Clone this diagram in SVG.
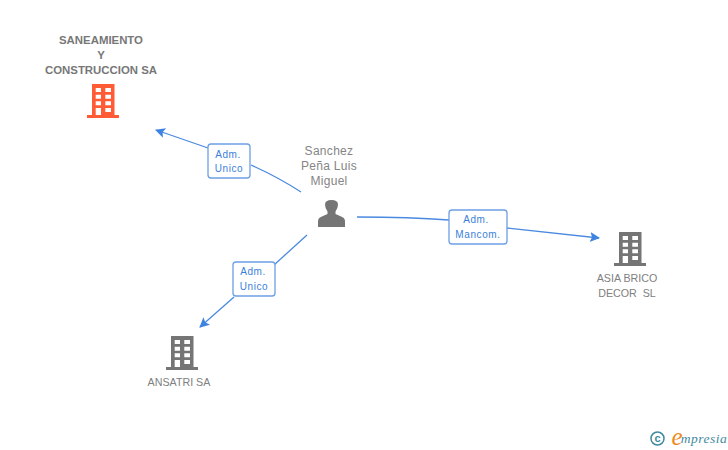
<svg xmlns="http://www.w3.org/2000/svg" width="728" height="450" viewBox="0 0 728 450">
<style>
text{font-family:"Liberation Sans",Arial,sans-serif;text-anchor:middle}
.n{font-size:10.7px;fill:#808080}
.b{font-weight:bold;font-size:11.4px;fill:#777}
.p{font-size:12px;fill:#858585;letter-spacing:.3px}
.l{font-size:10px;fill:#3a7fdc;letter-spacing:.6px}
.c{fill:none;stroke:#4a8ae0;stroke-width:1.300}
.box{fill:#fff;stroke:#6d9fe6;stroke-width:1.300}
</style>
<defs>
<marker id="a" markerWidth="12" markerHeight="12" refX="9" refY="5" orient="auto" markerUnits="userSpaceOnUse"><path d="M0 0L10 5L0 10L2 5Z" fill="#3f83e0"/></marker>
<symbol id="bld" viewBox="0 0 32 34" width="32" height="34" overflow="visible">
<path fill-rule="evenodd" d="M5 0H27.500V31H32V34H0V31H5ZM8.700 4V8H14V4ZM18.300 4V8H24V4ZM8.700 10.700V14.700H14V10.700ZM18.300 10.700V14.700H24V10.700ZM8.700 17.300V21.300H14V17.300ZM18.300 17.300V21.300H24V17.300ZM8.700 24V31H14V24ZM18.300 24V28H24V24Z"/>
</symbol>
</defs>
<rect width="728" height="450" fill="#fff"/>
<g id="connectors">
<path class="c" marker-end="url(#a)" d="M208 148L156 130"/>
<path class="c" d="M301 192Q278 177 251 165"/>
<path class="c" d="M357 217Q410 217 449 220"/>
<path class="c" marker-end="url(#a)" d="M507 228L599 238"/>
<path class="c" d="M307 235L274 265"/>
<path class="c" marker-end="url(#a)" d="M234 297L200 327"/>
</g>
<g id="node-saneamiento">
<text class="b" x="101" y="44">SANEAMIENTO</text>
<text class="b" x="101" y="59">Y</text>
<text class="b" x="101" y="74">CONSTRUCCION SA</text>
<use href="#bld" x="87" y="84" fill="#ff5c35"/>
</g>
<g id="node-sanchez">
<text class="p" x="329" y="155">Sanchez</text>
<text class="p" x="329" y="170">Peña Luis</text>
<text class="p" x="329" y="185">Miguel</text>
<path fill="#757575" d="M318 227V221Q318 217.500 323 216L327.500 214V211.500Q325 208 325 204.500Q325 200 331.500 200Q338 200 338 204.500Q338 208 335.500 211.500V214L340 216Q345 217.500 345 221V227Z"/>
</g>
<g id="node-asia">
<use href="#bld" x="614" y="232" fill="#757575"/>
<text class="n" x="627" y="282">ASIA BRICO</text>
<text class="n" x="627" y="297" xml:space="preserve">DECOR  SL</text>
</g>
<g id="node-ansatri">
<use href="#bld" x="166" y="336" fill="#757575"/>
<text class="n" x="179" y="386">ANSATRI SA</text>
</g>
<g id="label-1">
<rect class="box" x="208" y="144" width="42" height="34" rx="3"/>
<text class="l" x="228" y="158">Adm.</text>
<text class="l" x="229" y="172">Unico</text>
</g>
<g id="label-2">
<rect class="box" x="449" y="210" width="58" height="34" rx="3"/>
<text class="l" x="476" y="223">Adm.</text>
<text class="l" x="478" y="238">Mancom.</text>
</g>
<g id="label-3">
<rect class="box" x="233" y="262" width="42" height="34" rx="3"/>
<text class="l" x="253" y="275">Adm.</text>
<text class="l" x="254" y="290">Unico</text>
</g>
<g id="logo">
<circle cx="657.500" cy="438.500" r="6.500" fill="none" stroke="#3f8a9e" stroke-width="1.500"/>
<text x="657.500" y="442" style="font-size:11px;fill:#3f8a9e;font-weight:bold">c</text>
<text x="677" y="445" style="font-size:25px;fill:#f08a1d;font-style:italic;font-family:'Liberation Serif',serif">e</text>
<text x="704" y="443" style="font-size:13.500px;fill:#3f8a9e;font-style:italic;font-family:'Liberation Serif',serif;letter-spacing:.5px">mpresia</text>
</g>
</svg>
